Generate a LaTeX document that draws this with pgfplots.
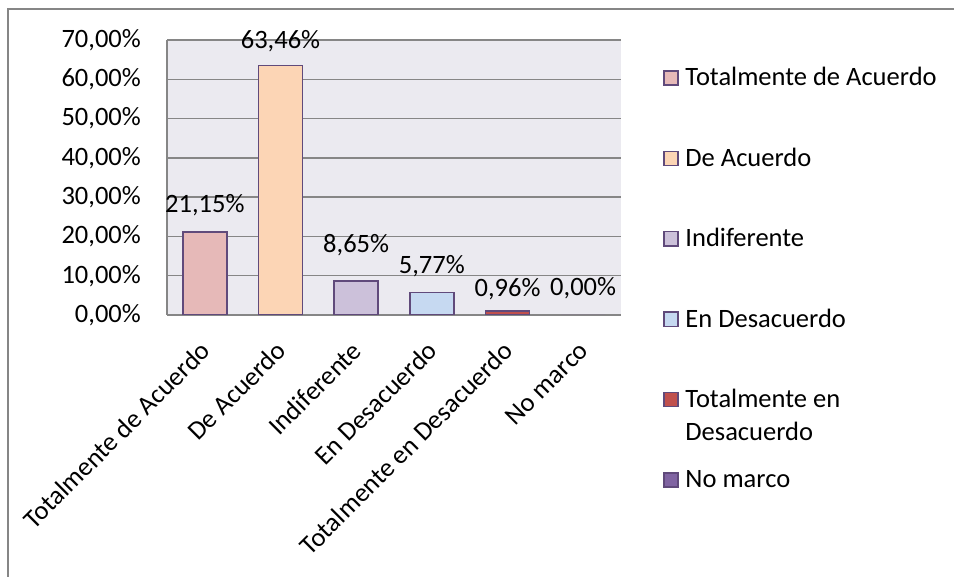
\documentclass[border=0pt]{standalone}
\usepackage{pgfplots}
\pgfplotsset{compat=1.18}
\usepackage{fontspec}
\setmainfont{Carlito}

\definecolor{bgcol}{RGB}{235,234,240}
\definecolor{gridgray}{RGB}{134,134,134}
\definecolor{barline}{RGB}{96,74,123}
\definecolor{cA}{RGB}{230,185,184}
\definecolor{cB}{RGB}{252,213,181}
\definecolor{cC}{RGB}{204,193,218}
\definecolor{cD}{RGB}{198,217,241}
\definecolor{cE}{RGB}{192,80,77}
\definecolor{cF}{RGB}{128,100,162}

\newcommand\cf{\fontsize{26.5}{31.8}\selectfont}

\begin{document}
\begin{tikzpicture}[x=1pt,y=1pt]
\useasboundingbox (0,0) rectangle (954,577);
\draw[gridgray,line width=1.5pt] (8,-20) |- (980,568);
\begin{axis}[
  at={(167pt,262pt)}, anchor=south west,
  scale only axis, width=454pt, height=275pt,
  ybar, bar shift=0pt, bar width=44pt,
  xmin=-0.5, xmax=5.5, ymin=0, ymax=70,
  axis lines=left, axis line style={-,draw=gridgray,line width=1.3pt},
  axis background/.style={fill=bgcol},
  ymajorgrids, grid style={gridgray,line width=1.3pt},
  major tick length=0pt,
  xtick={0,...,5},
  xticklabels={Totalmente de Acuerdo,De Acuerdo,Indiferente,En Desacuerdo,Totalmente en Desacuerdo,No marco},
  xticklabel style={rotate=45,anchor=east,inner sep=0pt,yshift=-22.5pt,xshift=-21.5pt},
  ytick={0,10,...,70},
  yticklabels={{0,00\%},{10,00\%},{20,00\%},{30,00\%},{40,00\%},{50,00\%},{60,00\%},{70,00\%}},
  yticklabel style={anchor=east,inner sep=0pt,xshift=-26pt},
  tick label style={font=\cf},
  /pgf/number format/assume math mode=true,
  every axis plot/.append style={draw=barline,line width=1.5pt},
  nodes near coords={\pgfmathprintnumber[fixed,fixed zerofill,precision=2,use comma]{\pgfplotspointmeta}\%},
  nodes near coords style={font=\cf,anchor=base,inner sep=0pt,text=black},
  legend cell align=left,
  legend image code/.code={\draw[#1,draw=barline,draw opacity=1,line width=1.5pt] (0.75pt,0.75pt) rectangle (15pt,15pt);},
  legend style={at={(1.0925,0.98)},anchor=north west,draw=none,fill=none,inner sep=0pt,
    row sep=0pt,font=\cf,
    nodes={inner sep=0pt,text height=40.2pt,text depth=40.2pt},
    cells={inner sep=0pt,text height=40.2pt,text depth=40.2pt},
    /tikz/every odd column/.append style={column sep=6.5pt}},
]
\addplot[fill=cA,nodes near coords style={yshift=19pt}] coordinates {(0,21.15)};
\addplot[fill=cB,nodes near coords style={yshift=17.5pt}] coordinates {(1,63.46)};
\addplot[fill=cC,nodes near coords style={yshift=28.5pt}] coordinates {(2,8.65)};
\addplot[fill=cD,nodes near coords style={yshift=19pt}] coordinates {(3,5.77)};
\addplot[fill=cE,nodes near coords style={yshift=15pt}] coordinates {(4,0.96)};
\addplot[fill=cF,draw opacity=0,nodes near coords style={yshift=19pt}] coordinates {(5,0.00)};
\legend{Totalmente de Acuerdo,De Acuerdo,Indiferente,En Desacuerdo,
  \begin{tabular}[t]{@{}l@{}}Totalmente en\\[1pt]Desacuerdo\end{tabular},No marco}
\end{axis}
\end{tikzpicture}
\end{document}
